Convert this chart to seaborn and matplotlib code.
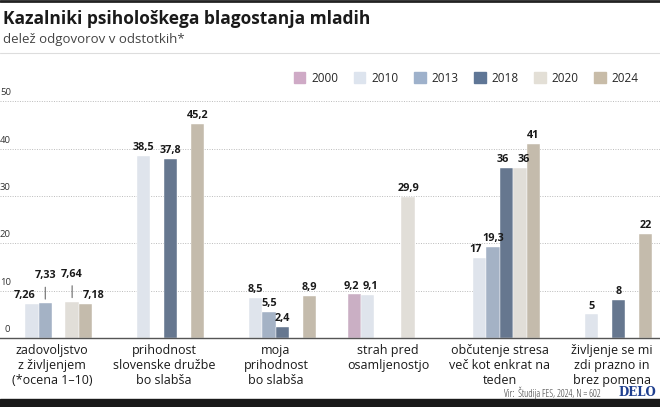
import pandas as pd
import matplotlib.pyplot as plt
import seaborn as sns

categories = [
    "zadovoljstvo\nz življenjem\n(*ocena 1–10)",
    "prihodnost\nslovenske družbe\nbo slabša",
    "moja\nprihodnost\nbo slabša",
    "strah pred\nosamljenostjo",
    "občutenje stresa\nveč kot enkrat na\nteden",
    "življenje se mi\nzdi prazno in\nbrez pomena",
]
years = ["2000", "2010", "2013", "2018", "2020", "2024"]
colors = ["#cfaac6", "#dde4ee", "#9eb1cb", "#5f7696", "#e3dfd6", "#c8bca8"]

# one list per category, None where there is no measurement
satisfaction = [None, 7.26, 7.33, None, 7.64, 7.18]
society_worse = [None, 38.5, None, 37.8, None, 45.2]
my_future_worse = [None, 8.5, 5.5, 2.4, None, 8.9]
loneliness = [9.2, 9.1, None, None, 29.9, None]
stress = [None, 17, 19.3, 36, 36, 41]
empty_life = [None, 5, None, 8, None, 22]

series = [satisfaction, society_worse, my_future_worse, loneliness, stress, empty_life]


def fmt(v):
    if float(v).is_integer():
        return str(int(v))
    return f"{v:.2f}".rstrip("0").replace(".", ",")


rows = []
for cat, vals in zip(categories, series):
    for y, v in zip(years, vals):
        if v is not None:
            rows.append({"kategorija": cat, "leto": y, "vrednost": v})
df = pd.DataFrame(rows)

sns.set_style("white")
plt.rcParams["font.family"] = ["Open Sans", "DejaVu Sans"]

fig = plt.figure(figsize=(6.6, 4.07), dpi=100)
ax = fig.add_axes([0, 69 / 407, 1, 246 / 407])

sns.barplot(data=df, x="kategorija", y="vrednost", hue="leto",
            order=categories, hue_order=years, palette=colors,
            width=0.72, gap=0, edgecolor="white", linewidth=0.3,
            legend=False, ax=ax)

ax.set_ylim(0, 52)
ax.set_xlim(-0.464, 5.43)
ax.set_xlabel("")
ax.set_ylabel("")
ax.set_yticks([0, 10, 20, 30, 40, 50])
ax.set_yticklabels([])
ax.tick_params(axis="y", length=0)
ax.tick_params(axis="x", length=0, pad=4, labelsize=9, labelcolor="#1a1a1a")
for s in ["top", "right", "left"]:
    ax.spines[s].set_visible(False)
ax.spines["bottom"].set_color("#555555")
ax.spines["bottom"].set_linewidth(1)
ax.grid(axis="y", color="#bbbbbb", linestyle=(0, (1, 1.5)), linewidth=0.7)
ax.set_axisbelow(True)

for t in [0, 10, 20, 30, 40, 50]:
    ax.annotate(str(t), (0, t), xycoords=("axes fraction", "data"),
                xytext=(0 if t else 3, 3), textcoords="offset points",
                fontsize=6.8, color="#333333", ha="left", va="bottom")

# value labels from the drawn bars
for y_i, cont in enumerate(ax.containers):
    for bar in cont:
        h = bar.get_height()
        if pd.isna(h) or h == 0:
            continue
        cx = bar.get_x() + bar.get_width() / 2
        c_i = int(round(cx))
        dx, dy, lead = 0, 2, False
        yr = years[y_i]
        if c_i == 0:
            if yr == "2010":
                dx = -5
            elif yr == "2024":
                dx = 6
            else:
                dy, lead = 16, True
        if c_i == 3:
            dx = {"2000": -2, "2010": 2}.get(yr, 0)
        if c_i == 4:
            dx = {"2010": -3, "2018": -2.5, "2020": 2.5}.get(yr, 0)
        ax.annotate(fmt(h), (cx, h), xytext=(dx, dy), textcoords="offset points",
                    ha="center", va="bottom", fontsize=7.8, fontweight="bold",
                    color="#1a1a1a")
        if lead:
            ax.annotate("", (cx, h + 0.3), xytext=(cx, h + 4.0),
                        arrowprops=dict(arrowstyle="-", color="#555555", lw=0.7))

# legend
handles = [plt.Rectangle((0, 0), 1, 1, color=c) for c in colors]
fig.legend(handles, years, loc="center right", bbox_to_anchor=(0.975, 1 - 78 / 407),
           ncol=6, frameon=False, fontsize=8.5, handlelength=1.0, handleheight=1.0,
           columnspacing=1.3, handletextpad=0.5, borderaxespad=0)

# header
fig.text(0.004, 1 - 19 / 407, "Kazalniki psihološkega blagostanja mladih",
         fontsize=12.5, fontweight="bold", color="#1a1a1a", va="center")
fig.text(0.004, 1 - 40 / 407, "delež odgovorov v odstotkih*",
         fontsize=9.5, color="#444444", va="center")
fig.add_artist(plt.Line2D([0, 1], [1 - 53 / 407, 1 - 53 / 407], color="#dddddd", lw=0.8))
fig.add_artist(plt.Line2D([0, 1], [1 - 1 / 407, 1 - 1 / 407], color="#222222", lw=2))
fig.add_artist(plt.Rectangle((0, 0), 1, 8 / 407, color="#1a1a1a", transform=fig.transFigure))

# source
fig.text(0.91, 1 - 393 / 407, "Vir:  Študija FES, 2024, N = 602",
         fontsize=7, color="#333333", ha="right", va="center", fontstretch="condensed")
fig.text(0.995, 1 - 393 / 407, "DELO", fontsize=8.5, fontweight="bold",
         color="#1f3f8f", ha="right", va="center", family=["DejaVu Serif"])

fig.savefig("out.png", dpi=100)
